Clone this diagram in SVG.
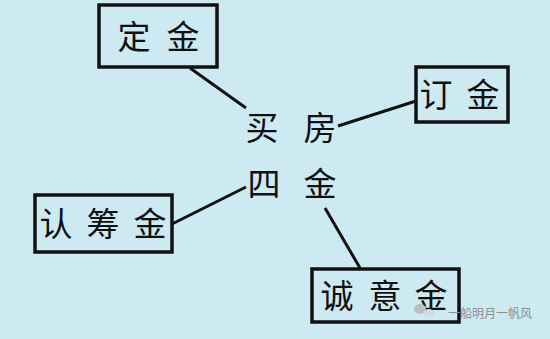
<svg xmlns="http://www.w3.org/2000/svg" width="550" height="339" viewBox="0 0 550 339">
<style>
.box{fill:#cdeaf3;stroke:#111;stroke-width:3.5}
.t{font-family:"Noto Sans CJK SC","Noto Sans",sans-serif;font-size:33px;fill:#111;text-anchor:middle}
.c{stroke:#111;stroke-width:3;fill:none}
.wm{font-family:"Noto Sans CJK SC",sans-serif;font-size:12px;fill:#8a8f92}
</style>
<rect width="550" height="339" fill="#cdeaf3"/>
<g id="connectors">
<line class="c" x1="190" y1="68" x2="246" y2="108"/>
<line class="c" x1="416" y1="101" x2="338" y2="126"/>
<line class="c" x1="172" y1="224" x2="246" y2="187"/>
<line class="c" x1="325" y1="208" x2="360" y2="268"/>
</g>
<g id="center">
<text class="t" x="262" y="140">买</text>
<text class="t" x="320" y="140">房</text>
<text class="t" x="264" y="196">四</text>
<text class="t" x="320" y="196">金</text>
</g>
<g id="dingjin1">
<rect class="box" x="99" y="5" width="118" height="62"/>
<text class="t" x="134" y="49">定</text>
<text class="t" x="183" y="49">金</text>
</g>
<g id="dingjin2">
<rect class="box" x="416" y="67" width="92" height="55"/>
<text class="t" x="436" y="107">订</text>
<text class="t" x="483" y="107">金</text>
</g>
<g id="renchoujin">
<rect class="box" x="35" y="195" width="137" height="57"/>
<text class="t" x="56" y="236">认</text>
<text class="t" x="103" y="236">筹</text>
<text class="t" x="150" y="236">金</text>
</g>
<g id="chengyijin">
<rect class="box" x="312" y="269" width="147" height="53"/>
<text class="t" x="337" y="308">诚</text>
<text class="t" x="385" y="308">意</text>
<text class="t" x="431" y="308">金</text>
</g>
<g id="watermark">
<ellipse cx="420" cy="309" rx="6" ry="5" fill="#b9bec1"/>
<ellipse cx="429" cy="313" rx="5" ry="4" fill="#d5d9db"/>
<text class="wm" x="448" y="318">一船明月一帆风</text>
</g>
</svg>
